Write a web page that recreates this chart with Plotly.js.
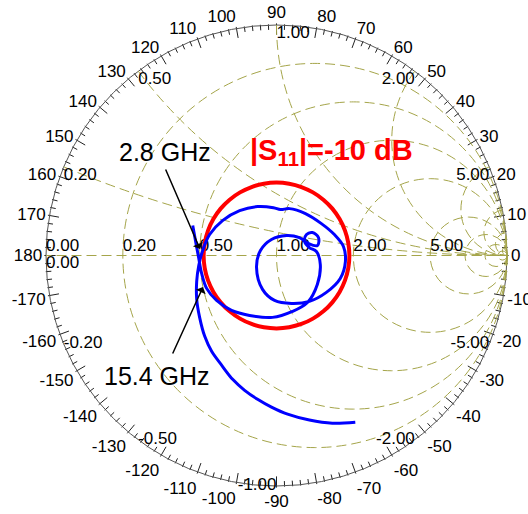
<!DOCTYPE html>
<html>
<head>
<meta charset="utf-8">
<script src="https://cdn.plot.ly/plotly-3.0.1.min.js"></script>
<style>html,body{margin:0;padding:0;background:#fff;}#chart{width:528px;height:514px;}</style>
</head>
<body>
<div id="chart"></div>
<script>
const s11_mag = [0.386,0.356,0.338,0.334,0.335,0.325,0.308,0.285,0.269,0.252,0.244,
  0.217,0.194,0.174,0.147,0.136,0.159,0.185,0.198,0.183,0.148,0.126,0.097,0.073,0.073,
  0.101,0.159,0.195,0.218,0.245,0.269,0.294,0.300,0.293,0.267,0.239,0.221,0.211,0.200,
  0.208,0.228,0.252,0.279,0.304,0.321,0.340,0.364,0.395,0.428,0.469,0.502,0.532,0.570,
  0.601,0.629,0.658,0.690,0.728,0.767,0.800];
const s11_phase = [160.3,170.2,-178.5,-166.5,-154.8,-143.1,-129.3,-114.2,-93.7,-74.1,-56.6,
  -35.3,-11.6,5.7,13.6,26.6,35.0,32.6,23.2,13.7,20.6,38.0,63.4,107.4,162.6,
  -149.0,-112.4,-92.5,-72.6,-54.3,-36.5,-19.8,-5.0,7.7,19.9,35.4,55.4,74.5,85.0,
  93.6,111.2,129.4,147.1,162.6,176.1,-172.7,-162.0,-151.2,-141.2,-131.6,-124.1,-116.6,-109.5,
  -103.3,-97.5,-91.9,-86.0,-78.7,-71.6,-64.7];

// |S11| = -10 dB reference circle
const limit_dB = -10;
const limit_theta = [0,10,20,30,40,50,60,70,80,90,100,110,120,130,140,150,160,170,180,
  190,200,210,220,230,240,250,260,270,280,290,300,310,320,330,340,350,360];

// Smith grid values and labels
const grid_vals = [0.2,0.5,1,2,5,10,20,50];
const real_label_vals = [0,0.2,0.5,1,2,5];
const real_labels = ['0.00','0.20','0.50','1.00','2.00','5.00'];
const imag_label_vals = [0.2,0.5,1,2,5,-0.2,-0.5,-1,-2,-5,0];
const imag_labels = ['0.20','0.50','1.00','2.00','5.00','-0.20','-0.50','-1.00','-2.00','-5.00','0.00'];
const imag_label_pos = ['bottom right','bottom right','bottom right','bottom left','bottom left',
  'middle right','middle right','middle left','middle left','middle left','bottom right'];

// Angle (phase) tick labels
const angle_vals = [0,10,20,30,40,50,60,70,80,90,100,110,120,130,140,150,160,170,180,
  190,200,210,220,230,240,250,260,270,280,290,300,310,320,330,340,350];
const angle_text = ['0','10','20','30','40','50','60','70','80','90','100','110','120','130','140','150','160','170','180',
  '-170','-160','-150','-140','-130','-120','-110','-100','-90','-80','-70','-60','-50','-40','-30','-20','-10'];

function gammaToZ(mag, deg) {
  const t = deg * Math.PI / 180;
  const gr = mag * Math.cos(t), gi = mag * Math.sin(t);
  const den = (1 - gr) * (1 - gr) + gi * gi;
  return [(1 - gr * gr - gi * gi) / den, 2 * gi / den];
}
function convert(mags, phases) {
  const re = [], im = [];
  for (let i = 0; i < mags.length; i++) {
    const z = gammaToZ(mags[i], phases[i]);
    re.push(z[0]); im.push(z[1]);
  }
  return {re, im};
}
const curve = convert(s11_mag, s11_phase);
const limitMag = Math.pow(10, limit_dB / 20);
const circ = convert(limit_theta.map(() => limitMag), limit_theta);

// Rim tick marks (decoration): every 2 degrees, longer every 10 degrees
const RIM_PX = 230.5;
function rimTickTrace(step, skipEvery, len) {
  const th = [], rr = [], ang = [];
  for (let a = 0; a < 360; a += step) {
    if (skipEvery && a % skipEvery === 0) continue;
    th.push(a); rr.push(1 - (len / 2) / RIM_PX); ang.push(90 - a);
  }
  return {type: 'scatterpolar', subplot: 'polar', r: rr, theta: th, mode: 'markers',
    cliponaxis: false, hoverinfo: 'skip',
    marker: {symbol: 'line-ns', size: len, angle: ang, color: '#222', line: {width: 1, color: '#222'}}};
}

const FONT = 'Liberation Sans, Arial, sans-serif';
const OLIVE = '#a5a54a';

const traces = [
  rimTickTrace(2, 10, 4),
  rimTickTrace(10, 0, 8),
  {type: 'scatterpolar', subplot: 'polar2', r: [], theta: [], mode: 'lines', hoverinfo: 'skip'},
  {type: 'scattersmith', real: real_label_vals, imag: real_label_vals.map(() => 0), mode: 'text',
   text: real_labels, textposition: 'top right', cliponaxis: false,
   textfont: {family: FONT, size: 17, color: '#000'}, hoverinfo: 'skip'},
  {type: 'scattersmith', real: imag_label_vals.map(() => 0), imag: imag_label_vals, mode: 'text',
   text: imag_labels, textposition: imag_label_pos, cliponaxis: false,
   textfont: {family: FONT, size: 17, color: '#000'}, hoverinfo: 'skip'},
  {type: 'scattersmith', real: circ.re, imag: circ.im, mode: 'lines',
   line: {color: '#ff0000', width: 4, shape: 'spline'}, hoverinfo: 'skip'},
  {type: 'scattersmith', real: curve.re, imag: curve.im, mode: 'lines',
   line: {color: '#0000ff', width: 3, shape: 'spline', smoothing: 1}, hoverinfo: 'skip'}
];

const layout = {
  width: 528, height: 514,
  margin: {l: 46, r: 21, t: 25, b: 28},
  paper_bgcolor: '#ffffff',
  showlegend: false,
  font: {family: FONT, color: '#000'},
  smith: {
    domain: {x: [0, 1], y: [0, 1]},
    bgcolor: 'rgba(0,0,0,0)',
    realaxis: {tickvals: grid_vals, showticklabels: false, ticks: '',
      showgrid: true, gridcolor: OLIVE, gridwidth: 1, griddash: '10px,5px',
      showline: false},
    imaginaryaxis: {tickvals: grid_vals, showticklabels: false, ticks: '',
      showgrid: true, gridcolor: OLIVE, gridwidth: 1, griddash: '10px,5px',
      showline: false}
  },
  polar: {
    domain: {x: [0, 1], y: [0, 1]},
    bgcolor: 'rgba(0,0,0,0)',
    radialaxis: {visible: false, range: [0, 1]},
    angularaxis: {tickvals: angle_vals, ticktext: angle_text, ticks: '',
      showgrid: false, showline: true, linecolor: '#555', linewidth: 1,
      rotation: 0, direction: 'counterclockwise',
      tickfont: {family: FONT, size: 17, color: '#000'}}
  },
  polar2: {
    domain: {x: [0, 1], y: [0, 1]},
    bgcolor: 'rgba(0,0,0,0)',
    radialaxis: {visible: false, range: [0, 1]},
    angularaxis: {tickvals: [0, 180], ticks: '', showticklabels: false, showline: false,
      showgrid: true, gridcolor: OLIVE, gridwidth: 1, griddash: '10px,5px',
      rotation: 0, direction: 'counterclockwise'}
  },
  annotations: [
    {xref: 'paper', yref: 'paper', x: (165 - 46) / 461, y: (486 - 152) / 461, text: '2.8 GHz',
     xanchor: 'center', yanchor: 'middle',
     showarrow: false, font: {family: FONT, size: 25, color: '#000'}},
    {xref: 'paper', yref: 'paper', x: (157 - 46) / 461, y: (486 - 376) / 461, text: '15.4 GHz',
     xanchor: 'center', yanchor: 'middle',
     showarrow: false, font: {family: FONT, size: 25, color: '#000'}},
    {xref: 'paper', yref: 'paper', x: (331 - 46) / 461, y: (486 - 152) / 461, text: '|S<sub>11</sub>|=-10 dB',
     xanchor: 'center', yanchor: 'middle',
     showarrow: false, font: {family: FONT, size: 29, color: '#ff0000', weight: 'bold'}},
    {xref: 'paper', yref: 'paper', x: (200 - 46) / 461, y: (486 - 249) / 461, text: '',
     showarrow: true, ax: -35, ay: -81, arrowhead: 1, arrowsize: 1.2, arrowwidth: 1.5, arrowcolor: '#000'},
    {xref: 'paper', yref: 'paper', x: (203 - 46) / 461, y: (486 - 287) / 461, text: '',
     showarrow: true, ax: -31, ay: 68, arrowhead: 1, arrowsize: 1.2, arrowwidth: 1.5, arrowcolor: '#000'}
  ]
};

Plotly.newPlot('chart', traces, layout, {displayModeBar: false, staticPlot: true});
</script>
</body>
</html>
